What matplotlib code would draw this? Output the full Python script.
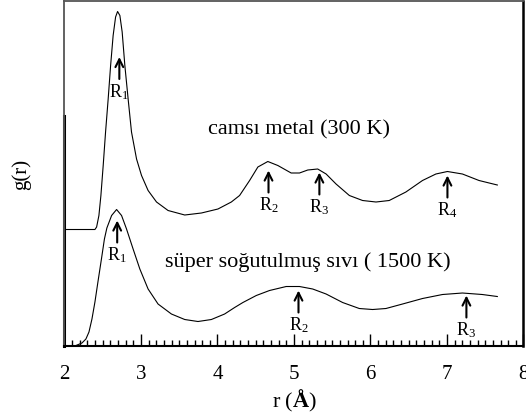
import numpy as np
import matplotlib.pyplot as plt

plt.rcParams['font.family'] = ['Liberation Serif', 'DejaVu Serif']
plt.rcParams['mathtext.fontset'] = 'custom'
plt.rcParams['mathtext.rm'] = 'Liberation Serif'
plt.rcParams['mathtext.bf'] = 'Liberation Serif:bold'
plt.rcParams['mathtext.it'] = 'Liberation Serif:italic'

# g(r) camsı metal (300 K)
r_cam = [2.0, 2.398, 2.420, 2.450, 2.476, 2.506, 2.537, 2.571, 2.603, 2.636, 2.668,
         2.694, 2.724, 2.754, 2.789, 2.832, 2.876, 2.942, 3.007, 3.093, 3.203, 3.354,
         3.572, 3.790, 4.006, 4.181, 4.289, 4.420, 4.528, 4.658, 4.789, 4.963, 5.072,
         5.180, 5.310, 5.420, 5.550, 5.724, 5.897, 6.072, 6.245, 6.463, 6.680, 6.855,
         7.006, 7.202, 7.419, 7.658]
g_cam = [0.0, 0.0, 0.05, 0.28, 0.68, 1.28, 1.95, 2.61, 3.28, 3.88, 4.25,
         4.36, 4.28, 3.95, 3.28, 2.61, 1.95, 1.41, 1.08, 0.78, 0.55, 0.38,
         0.29, 0.33, 0.41, 0.55, 0.68, 0.98, 1.25, 1.36, 1.28, 1.13, 1.13,
         1.19, 1.21, 1.11, 0.91, 0.68, 0.58, 0.55, 0.58, 0.75, 0.98, 1.11,
         1.16, 1.11, 0.98, 0.89]
cam_offset = 2.33

# g(r) süper soğutulmuş sıvı (1500 K)
r_siv = [2.150, 2.228, 2.280, 2.320, 2.359, 2.398, 2.437, 2.485, 2.522, 2.554, 2.616,
         2.681, 2.746, 2.811, 2.897, 2.985, 3.093, 3.223, 3.398, 3.572, 3.745, 3.920,
         4.093, 4.224, 4.332, 4.507, 4.680, 4.898, 5.072, 5.245, 5.420, 5.636, 5.854,
         6.028, 6.202, 6.419, 6.680, 6.941, 7.202, 7.462, 7.658]
g_siv = [0.01, 0.06, 0.14, 0.28, 0.54, 0.88, 1.28, 1.76, 2.14, 2.36, 2.61,
         2.73, 2.61, 2.34, 1.94, 1.54, 1.14, 0.84, 0.64, 0.53, 0.49, 0.53,
         0.64, 0.77, 0.87, 1.01, 1.11, 1.19, 1.19, 1.14, 1.04, 0.87, 0.75,
         0.73, 0.75, 0.84, 0.95, 1.03, 1.06, 1.03, 0.99]

# pik konumlari ve ok / etiket yukseklikleri
cam_pik_r = [2.717, 4.667, 5.332, 7.006]
cam_ok_uc = [5.78, 3.51, 3.47, 3.41]
cam_etiket = [r'R$_1$', r'R$_2$', r'R$_3$', r'R$_4$']
siv_pik_r = [2.689, 5.059, 7.254]
siv_ok_uc = [2.51, 1.11, 1.01]
siv_etiket = [r'R$_1$', r'R$_2$', r'R$_3$']
ok_boy = 0.44

fig = plt.figure(figsize=(5.26, 4.14), dpi=100)
ax = fig.add_axes([0.1226, 0.1618, 0.8726, 0.8334])

ax.plot(r_cam, np.array(g_cam) + cam_offset, color='black', lw=0.8)
ax.plot(r_siv, g_siv, color='black', lw=0.8)

for r, uc, lab in zip(cam_pik_r + siv_pik_r, cam_ok_uc + siv_ok_uc, cam_etiket + siv_etiket):
    ax.annotate('', xy=(r, uc), xytext=(r, uc - ok_boy),
                arrowprops=dict(arrowstyle='->', lw=1.5, color='black',
                                mutation_scale=14, shrinkA=0, shrinkB=0))
    ax.text(r, uc - ok_boy - 0.04, lab, ha='center', va='top', fontsize=13)

ax.text(3.87, 4.34, 'camsı metal (300 K)', fontsize=16, va='center', ha='left')
ax.text(3.31, 1.7, 'süper soğutulmuş sıvı ( 1500 K)', fontsize=16, va='center', ha='left')

ax.set_xlim(2, 8)
ax.set_ylim(0, 6.9)
ax.set_xticks(np.arange(2, 9, 1))
ax.set_xticks(np.arange(2, 8.01, 0.1), minor=True)
ax.set_yticks([])
ax.tick_params(axis='x', which='major', direction='in', length=9, width=1, labelsize=15, pad=13)
ax.tick_params(axis='x', which='minor', direction='in', length=4.5, width=1)

ax.set_xlabel(r'r ($\mathbf{Å}$)', fontsize=16, labelpad=3)
ax.set_ylabel('g(r)', fontsize=15)
ax.yaxis.set_label_coords(-0.073, 0.5)

ax.spines['top'].set_color('#555555')
ax.spines['top'].set_linewidth(1.3)
ax.spines['left'].set_color('#555555')
ax.spines['left'].set_linewidth(1.3)
ax.spines['right'].set_linewidth(1.8)
ax.spines['bottom'].set_linewidth(1.5)
ax.axvline(2, ymin=0, ymax=0.667, color='black', lw=2.2, clip_on=False)

fig.savefig('out.png', dpi=100)
